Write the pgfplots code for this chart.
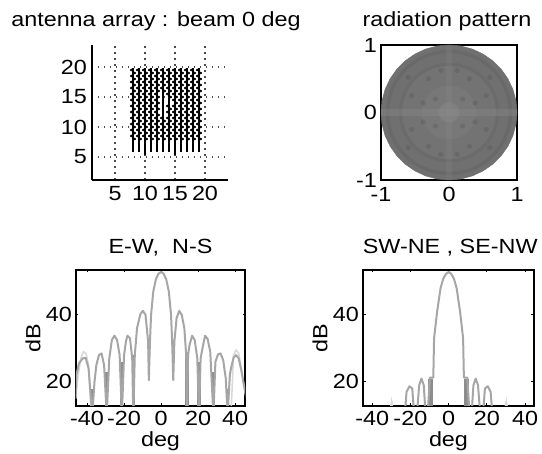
\documentclass[border=0pt]{standalone}
\usepackage{pgfplots}
\usepackage{pgfplotstable}
\usepackage{fontspec}
\pgfplotsset{compat=1.18}
\setmainfont[FakeStretch=1.14]{Liberation Sans}
\newcommand{\lab}{\fontsize{20.5}{22}\selectfont}
\pgfdeclareplotmark{elem}{%
  \pgfpathcircle{\pgfpoint{1.8pt}{0pt}}{1.05pt}%
  \pgfpathcircle{\pgfpoint{-1.8pt}{3pt}}{1.05pt}%
  \pgfusepathqfillstroke}
\pgfplotstableread{
cx cy
1 0
.985 .174
.940 .342
.866 .5
.766 .643
.643 .766
.5 .866
.342 .940
.174 .985
0 1
-.174 .985
-.342 .940
-.5 .866
-.643 .766
-.766 .643
-.866 .5
-.940 .342
-.985 .174
-1 0
-.985 -.174
-.940 -.342
-.866 -.5
-.766 -.643
-.643 -.766
-.5 -.866
-.342 -.940
-.174 -.985
0 -1
.174 -.985
.342 -.940
.5 -.866
.643 -.766
.766 -.643
.866 -.5
.940 -.342
.985 -.174
}\circletable
\pgfplotsset{
  every axis/.append style={scale only axis, font=\lab, line width=1.5pt,
    tick style={line width=1pt,black}, major tick length=2.5pt, tick pos=both,
    tick align=inside, title style={font=\lab}, label style={font=\lab},
    ticklabel style={font=\lab}},
  lobe/.style={sharp plot, color=black!35, line width=2pt, line join=round, no marks},
  lobel/.style={sharp plot, color=black!15, line width=1.6pt, no marks},
  barc/.style={ycomb, color=black!45, line width=3.4pt, no marks},
  seg/.style={color=black!45, line width=2.4pt, no marks},
}
\begin{document}
\begin{tikzpicture}[x=1pt,y=1pt]
\path[use as bounding box] (0,0) rectangle (542,454);
% ---------- array
\begin{axis}[at={(92pt,274pt)}, anchor=south west, width=136pt, height=135pt,
  xmin=1.1667, xmax=23.8333, ymin=1.1667, ymax=23.6667,
  axis x line=bottom, axis y line=left, axis line style={-},
  xtick={5,10,15,20}, ytick={5,10,15,20},
  xticklabels={5,10,15,20}, yticklabels={5,10,15,20},
  major tick length=0pt,
  grid=major, major grid style={black!70, line width=1.5pt, dash pattern=on 1.5pt off 4.5pt},
  xticklabel style={yshift=-2pt}, yticklabel style={xshift=-1pt},
  title={antenna array : beam 0 deg}, title style={at={(0.47,1)}, yshift=4pt},
  clip=false]
\addplot[black, line width=2pt, no marks, unbounded coords=jump] coordinates {
(8,5.8)(8,19.9)(nan,nan)(9,5.8)(9,19.9)(nan,nan)(10,5.3)(10,19.9)(nan,nan)
(11,5.8)(11,19.9)(nan,nan)(12,5.8)(12,19.9)(nan,nan)(13,5.8)(13,19.9)(nan,nan)
(14,5.8)(14,19.9)(nan,nan)(15,5.3)(15,19.9)(nan,nan)(16,5.8)(16,19.9)(nan,nan)
(17,5.8)(17,19.9)(nan,nan)(18,5.8)(18,19.9)(nan,nan)(19,5.8)(19,19.9)};
\addplot[only marks, mark=elem, mark options={fill=black, draw=black, line width=.5pt, solid}] coordinates {
(8,8)(9,8)(10,8)(11,8)(12,8)(13,8)(14,8)(15,8)(16,8)(17,8)(18,8)(19,8)
(8,9)(9,9)(10,9)(11,9)(12,9)(13,9)(14,9)(15,9)(16,9)(17,9)(18,9)(19,9)
(8,10)(9,10)(10,10)(11,10)(12,10)(13,10)(14,10)(15,10)(16,10)(17,10)(18,10)(19,10)
(8,11)(9,11)(10,11)(11,11)(12,11)(13,11)(14,11)(15,11)(16,11)(17,11)(18,11)(19,11)
(8,12)(9,12)(10,12)(11,12)(12,12)(14,12)(15,12)(16,12)(17,12)(18,12)(19,12)
(8,13)(9,13)(10,13)(11,13)(12,13)(14,13)(15,13)(16,13)(17,13)(18,13)(19,13)
(8,14)(9,14)(10,14)(11,14)(12,14)(15,14)(16,14)(17,14)(18,14)(19,14)
(8,15)(9,15)(10,15)(11,15)(12,15)(14,15)(15,15)(16,15)(17,15)(18,15)(19,15)
(8,16)(9,16)(10,16)(11,16)(12,16)(13,16)(14,16)(15,16)(16,16)(17,16)(18,16)(19,16)
(8,17)(9,17)(10,17)(11,17)(12,17)(13,17)(14,17)(15,17)(16,17)(17,17)(18,17)(19,17)
(8,18)(9,18)(10,18)(11,18)(12,18)(13,18)(14,18)(15,18)(16,18)(17,18)(18,18)(19,18)
(8,19)(9,19)(10,19)(11,19)(12,19)(13,19)(14,19)(15,19)(16,19)(17,19)(18,19)(19,19)
};
\end{axis}
% ---------- pattern
\begin{axis}[at={(381pt,274pt)}, anchor=south west, width=136pt, height=135pt,
  xmin=-1, xmax=1, ymin=-1, ymax=1, xtick={-1,0,1}, ytick={-1,0,1},
  xticklabels={-1,0,1}, yticklabels={-1,0,1}, major tick length=0pt,
  xticklabel style={yshift=-3pt}, yticklabel style={xshift=0pt},
  title={radiation pattern}, title style={at={(0.485,1)}, yshift=4pt}, clip=false]
\addplot[fill=black!56, draw=black!56, line width=.5pt] table[x=cx,y=cy] {\circletable} -- cycle;
\addplot[fill=black!59, draw=none] table[x expr=\thisrow{cx}*.93,y expr=\thisrow{cy}*.93] {\circletable} -- cycle;
\addplot[fill=black!56, draw=none] table[x expr=\thisrow{cx}*.88,y expr=\thisrow{cy}*.88] {\circletable} -- cycle;
\addplot[fill=black!58, draw=none] table[x expr=\thisrow{cx}*.74,y expr=\thisrow{cy}*.74] {\circletable} -- cycle;
\addplot[fill=black!55, draw=none] table[x expr=\thisrow{cx}*.69,y expr=\thisrow{cy}*.69] {\circletable} -- cycle;
\addplot[fill=black!53, draw=none] table[x expr=\thisrow{cx}*.4,y expr=\thisrow{cy}*.4] {\circletable} -- cycle;
\addplot[fill=black!50, draw=none] table[x expr=\thisrow{cx}*.15,y expr=\thisrow{cy}*.15] {\circletable} -- cycle;
\addplot[fill=black!45, draw=none, opacity=.35] coordinates {(-1,-.05)(1,-.05)(1,.05)(-1,.05)} -- cycle;
\addplot[fill=black!45, draw=none, opacity=.2] coordinates {(-.05,-.97)(.05,-.97)(.05,.97)(-.05,.97)} -- cycle;
\addplot[only marks, mark=*, mark size=2.6pt, mark options={draw opacity=0, fill=black!75, fill opacity=.2}] coordinates {
(.2,.2)(-.2,.2)(.2,-.2)(-.2,-.2)(.55,.25)(-.55,.25)(.55,-.25)(-.55,-.25)
(.3,.5)(-.3,.5)(.3,-.5)(-.3,-.5)(.6,.52)(-.6,.52)(.6,-.52)(-.6,-.52)
(.12,.62)(-.12,.62)(.12,-.62)(-.12,-.62)(.38,.14)(-.38,.14)(.38,-.14)(-.38,-.14)};
\end{axis}
% ---------- E-W
\begin{axis}[at={(76pt,48pt)}, anchor=south west, width=169pt, height=136pt,
  xmin=-46, xmax=45.4, ymin=12.8, ymax=53.4,
  xtick={-40,-20,0,20,40}, xticklabels={-40,-20,0,20,40}, ytick={20,40},
  yticklabels={20,40},
  xlabel={deg}, ylabel={dB},
  xticklabel style={yshift=-1pt},
  xlabel style={yshift=1pt}, ylabel style={yshift=-2pt},
  title={E-W,\ \ N-S}, title style={yshift=4pt}]
\addplot[lobel] coordinates {(-46.2,15)(-44.8,22)(-43.4,27)(-42,29)(-40.6,28.5)(-39.2,25)(-37.8,10)};
\addplot[lobel] coordinates {(37.8,10)(39.2,28)(40.6,29.5)(42,28.5)(43.4,24)(44.8,19)(46.2,15)};
\addplot[barc] coordinates {(-37,18)(-29.4,23)(-21.3,26)(-15,28)(14,28)(20.5,26)(28.3,23)(36,18)};
\addplot[seg] coordinates {(-6.6,28)(-6.6,32)};
\addplot[seg] coordinates {(6.6,28)(6.6,32)};
\addplot[lobe] coordinates {
(-46.2,15)(-45.8,22)(-44.4,25.5)(-42.4,27)(-40.8,27.2)(-39.2,24)(-37.2,10)(-36,20)(-35,25)(-33.6,28)(-32.2,28.5)
(-30.8,25)(-29.4,10)(-28,27)(-26.6,32.5)(-25.2,33.8)(-23.8,32.5)(-22.4,28)(-21.2,10)(-20,28)(-19,32)(-18.2,33.8)
(-16.8,33)(-15.6,27)(-15,10)(-14.2,28)(-13,36)(-11.2,40.2)(-9.8,41.2)(-8.4,40)(-7,32)(-6.6,20.5)(-6,32)(-5.4,40)(-4.2,47)(-2.8,50.6)(-1.4,52.3)
(0,52.8)(1.4,52.3)(2.8,50.6)(4.2,47)(5.4,40)(6,32)(6.6,20.5)(7.2,32)(8.4,39)(9.8,41.2)(11.2,40)(12.6,36)(13.6,28)(14,10)(14.6,28)(15.4,31)(16.8,33.8)
(18.2,32.5)(19.6,27)(20.5,10)(21.4,27)(22.4,30)(23.8,33.8)(25.2,32.8)(26.6,29)(28.3,10)(29.4,26)(30.8,28.2)(32.2,28.5)(33.6,26.5)
(35,21)(36,10)(37.2,22)(37.8,24)(39.2,27.2)(40.6,28)(42,27)(43.4,23.5)(44.8,19)(46.2,15)};
\end{axis}
% ---------- SW-NE
\begin{axis}[at={(363pt,48pt)}, anchor=south west, width=171pt, height=136pt,
  xmin=-44.8, xmax=44.7, ymin=12.8, ymax=53.4,
  xtick={-40,-20,0,20,40}, xticklabels={-40,-20,0,20,40}, ytick={20,40},
  yticklabels={20,40},
  xlabel={deg}, ylabel={dB},
  xticklabel style={yshift=-1pt},
  xlabel style={yshift=1pt}, ylabel style={yshift=-2pt},
  title={SW-NE , SE-NW}, title style={at={(0.51,1)}, yshift=4pt}]
\addplot[barc, line width=5pt] coordinates {(-9.6,21)(9.6,21)};
\addplot[lobel] coordinates {(-31,10)(-29.8,14.2)(-28.6,10)};
\addplot[lobel] coordinates {(29,10)(30.2,14.2)(31.4,10)};
\addplot[lobe] coordinates {(-23,10)(-22,17)(-20.5,18.7)(-19,18)(-18,10)};
\addplot[lobe] coordinates {(-16.6,10)(-15.4,19)(-14.2,21)(-13,19)(-12,10)};
\addplot[lobe] coordinates {(-11,10)(-9.8,21.3)(-8,21.3)(-7.6,33)(-6,41)(-4.2,48)(-2.8,50.8)(-1.4,52.2)(0,52.8)(1.4,52.2)(2.8,50.8)(4.2,48)(6,41)(7.6,33)(8,21.3)(9.8,21.3)(11,10)};
\addplot[lobe] coordinates {(12,10)(13,19)(14.2,21)(15.4,19)(16.6,10)};
\addplot[lobe] coordinates {(18,10)(19,18)(20.5,18.7)(22,17)(23,10)};
\end{axis}
\end{tikzpicture}
\end{document}
